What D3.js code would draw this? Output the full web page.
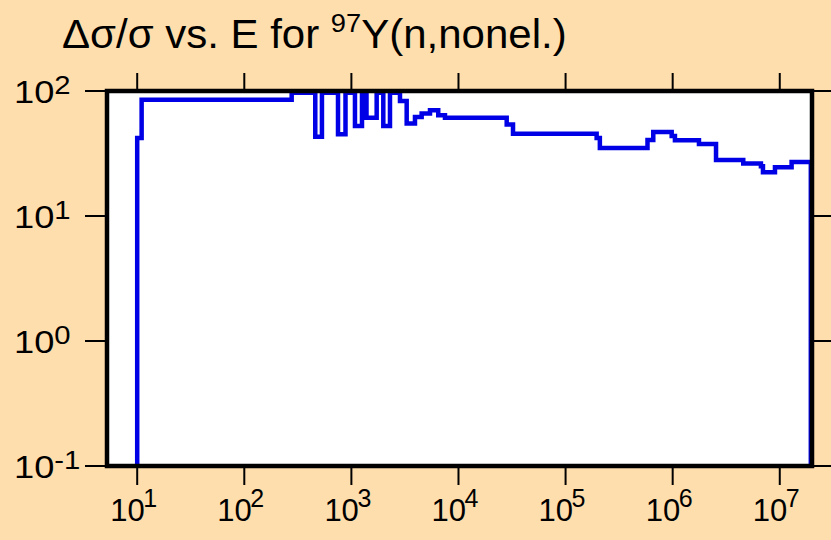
<!DOCTYPE html>
<html><head><meta charset="utf-8">
<script src="https://cdn.jsdelivr.net/npm/d3@7"></script>
<style>html,body{margin:0;padding:0;background:#FFDEAD;}svg{display:block;}</style>
</head><body>
<svg id="c" width="831" height="540"></svg>
<script>
// Bin edges (eV) and relative uncertainty (%) per bin
const edges = [10, 11, 277, 460, 531, 750, 881, 1080, 1256, 1384, 1722, 1986, 2293, 2843, 3283, 3924, 4530, 5420, 6470, 7480, 28200, 32300, 195000, 209000, 582000, 659000, 979000, 1.05e6, 1.76e6, 2.54e6, 4.56e6, 6.67e6, 6.97e6, 9.02e6, 1.29e7, 1.95e7];
const values = [42, 85, 97, 43, 97, 45, 97, 52.5, 97, 61, 97, 52.5, 97, 83, 55, 62, 66, 70, 64, 61, 54, 45.5, 42, 35, 40.5, 47, 43.7, 40.4, 37.7, 28.1, 26.3, 25, 22.4, 24.5, 27];
const xTicks = [1e1, 1e2, 1e3, 1e4, 1e5, 1e6, 1e7];
const xExps = ["1", "2", "3", "4", "5", "6", "7"];
const yTicks = [1e-1, 1e0, 1e1, 1e2];
const yExps = ["-1", "0", "1", "2"];
const titleMain = "\u0394\u03c3/\u03c3 vs. E for ";
const titleSup = "97";
const titleEnd = "Y(n,nonel.)";
const yFloor = 0.1;

const svg = d3.select("#c");
const L = 107, R = 812, T = 91, B = 466;
const x = d3.scaleLog().domain([Math.pow(10, 0.718), Math.pow(10, 7.301)]).range([L, R]);
const y = d3.scaleLog().domain([0.1, 100]).range([B, T]);

svg.append("rect").attr("width", 831).attr("height", 540).attr("fill", "#FFDEAD");
svg.append("rect").attr("x", L).attr("y", T).attr("width", R - L).attr("height", B - T).attr("fill", "#fff");

// step data
const pts = [[edges[0], yFloor]];
values.forEach((v, i) => pts.push([edges[i], v]));
pts.push([edges[edges.length - 1], values[values.length - 1]]);
pts.push([edges[edges.length - 1], yFloor]);

const line = d3.line().x(d => x(d[0])).y(d => y(d[1])).curve(d3.curveStepAfter);
svg.append("path").datum(pts).attr("d", line).attr("fill", "none")
  .attr("stroke", "#0000e6").attr("stroke-width", 4.5).attr("stroke-linejoin", "miter");

// frame
svg.append("rect").attr("x", L).attr("y", T).attr("width", R - L).attr("height", B - T)
  .attr("fill", "none").attr("stroke", "#000").attr("stroke-width", 4.5);

const font = "'Liberation Sans', Arial, sans-serif";
// x ticks top & bottom
const gx = svg.append("g");
xTicks.forEach((t, i) => {
  const px = x(t);
  gx.append("line").attr("x1", px).attr("x2", px).attr("y1", B + 2).attr("y2", B + 19).attr("stroke", "#000").attr("stroke-width", 2);
  gx.append("line").attr("x1", px).attr("x2", px).attr("y1", T - 2).attr("y2", T - 18).attr("stroke", "#000").attr("stroke-width", 2);
  gx.append("text").attr("x", px - 27).attr("y", 521)
    .attr("font-family", font).attr("font-size", 31).attr("fill", "#000").text("10");
  gx.append("text").attr("x", px + 6).attr("y", 507)
    .attr("font-family", font).attr("font-size", 25).attr("fill", "#000").text(xExps[i]);
});

// y ticks left & right
const gy = svg.append("g");
yTicks.forEach((t, i) => {
  const py = y(t);
  gy.append("line").attr("x1", L - 2).attr("x2", L - 22).attr("y1", py).attr("y2", py).attr("stroke", "#000").attr("stroke-width", 2);
  gy.append("line").attr("x1", R + 2).attr("x2", 831).attr("y1", py).attr("y2", py).attr("stroke", "#000").attr("stroke-width", 2);
  const tx = gy.append("text").attr("transform", `translate(14,${py + 12}) scale(1.17,1)`)
    .attr("font-family", font).attr("font-size", 31).attr("fill", "#000");
  tx.append("tspan").text("10");
  tx.append("tspan").attr("font-size", 25).attr("dy", -9).text(yExps[i]);
});

// title
const tt = svg.append("text").attr("transform", "translate(62,48) scale(1.05,1)")
  .attr("font-family", font).attr("font-size", 40).attr("fill", "#000");
tt.append("tspan").text(titleMain);
tt.append("tspan").attr("font-size", 26).attr("dy", -16).text(titleSup);
tt.append("tspan").attr("dy", 16).text(titleEnd);
</script>
</body></html>
